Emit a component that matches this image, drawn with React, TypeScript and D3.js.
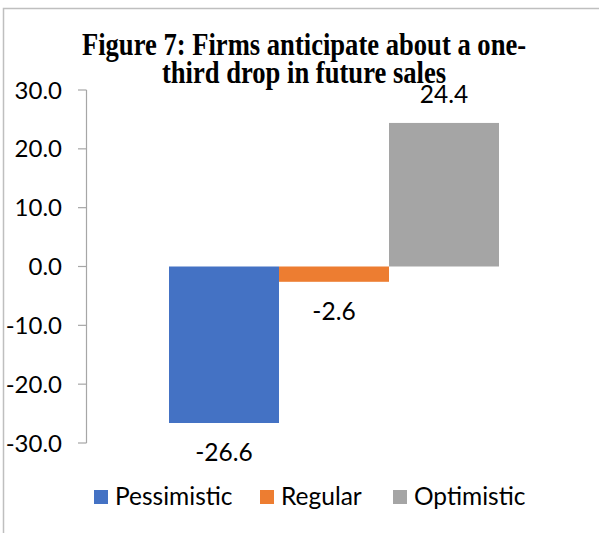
import React from "react";
import * as d3 from "d3";

const categories = ["Pessimistic", "Regular", "Optimistic"];
const values = [-26.6, -2.6, 24.4];
const colors = ["#4472C4", "#ED7D31", "#A5A5A5"];
const tickValues = [30, 20, 10, 0, -10, -20, -30];
const titleLines = ["Figure 7: Firms anticipate about a one-", "third drop in future sales"];

export default function App() {
  const W = 599, H = 533;
  const y = d3.scaleLinear().domain([-30, 30]).range([443, 90]);
  const x = d3.scaleBand().domain(categories).range([169, 499]).padding(0);
  const axisX = 86.5;
  const fontSans = "Lato, 'Open Sans', sans-serif";
  const fs = 24.5;
  const legendX = [94, 260, 393];
  return (
    <svg width={W} height={H} style={{ position: "absolute", left: 0, top: 0 }}>
      <rect x={0} y={0} width={W} height={H} fill="#fff" />
      <path d={`M3.5,${H} V8.5 H${W}`} fill="none" stroke="#BFBFBF" strokeWidth={1.5} />
      {titleLines.map((t, i) => (
        <text key={i} transform={`translate(304,${55 + i * 28}) scale(1,1.2)`} textAnchor="middle" fontFamily="'Liberation Serif', 'Times New Roman', serif" fontWeight="bold" fontSize={26.6} fill="#000">{t}</text>
      ))}
      <line x1={axisX} x2={axisX} y1={y(30)} y2={y(-30)} stroke="#A6A6A6" strokeWidth={1.2} />
      {tickValues.map(v => (
        <g key={v}>
          <line x1={78} x2={axisX} y1={y(v)} y2={y(v)} stroke="#A6A6A6" strokeWidth={1.2} />
          <text x={62} y={y(v)} dy="0.36em" textAnchor="end" fontFamily={fontSans} fontSize={24} fill="#000">{v.toFixed(1)}</text>
        </g>
      ))}
      {categories.map((c, i) => {
        const v = values[i];
        const y0 = y(Math.max(0, v)), y1 = y(Math.min(0, v));
        const cx = (x(c) as number) + x.bandwidth() / 2;
        const ly = v >= 0 ? y0 - 20 : y1 + 38;
        return (
          <g key={c}>
            <rect x={x(c)} y={y0} width={x.bandwidth()} height={y1 - y0} fill={colors[i]} />
            <text x={cx} y={ly} textAnchor="middle" fontFamily={fontSans} fontSize={fs} fill="#000">{v.toFixed(1)}</text>
          </g>
        );
      })}
      {categories.map((c, i) => (
        <g key={c}>
          <rect x={legendX[i]} y={490} width={14} height={14} fill={colors[i]} />
          <text x={legendX[i] + 21} y={505} fontFamily={fontSans} fontSize={fs} fill="#000">{c}</text>
        </g>
      ))}
    </svg>
  );
}
